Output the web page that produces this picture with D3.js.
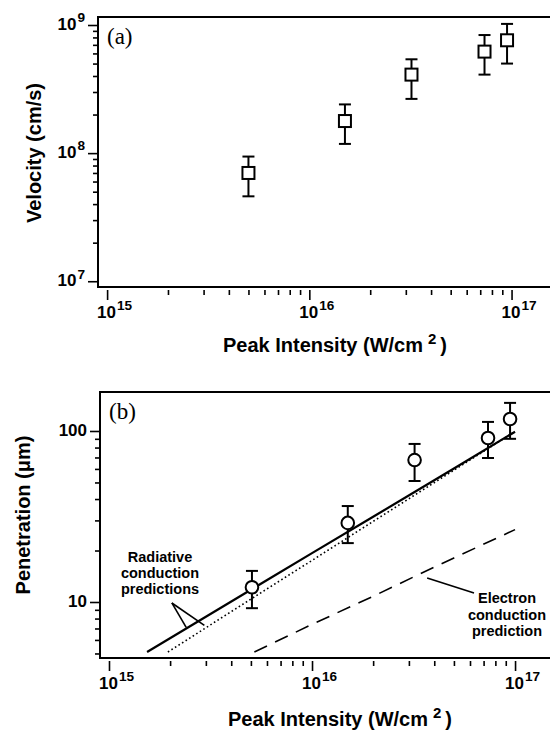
<!DOCTYPE html>
<html>
<head>
<meta charset="utf-8">
<script src="https://cdn.jsdelivr.net/npm/d3@7"></script>
<style>
  body { margin: 0; background: #fff; }
  svg { display: block; font-family: "Liberation Sans", Arial, sans-serif; }
</style>
</head>
<body>
<svg id="chart" width="550" height="733"></svg>
<script>
// ---- panel (a): velocity vs intensity ----
const velIntensity = [5.0e15, 1.5e16, 3.2e16, 7.35e16, 9.5e16];
const velocity     = [7.0e7, 1.78e8, 4.1e8, 6.2e8, 7.6e8];
const velHi        = [9.4e7, 2.4e8, 5.4e8, 8.35e8, 1.02e9];
const velLo        = [4.6e7, 1.18e8, 2.65e8, 4.1e8, 5.0e8];

// ---- panel (b): penetration vs intensity ----
const penIntensity = [5.06e15, 1.5e16, 3.2e16, 7.36e16, 9.45e16];
const penetration  = [12.2, 29, 67.6, 91, 117.5];
const penHi        = [15.2, 36.4, 84, 113, 146];
const penLo        = [9.2, 22.1, 51, 69.5, 90];

// model curves
const radIntensity    = [1.54e15, 3e15, 5e15, 1e16, 2e16, 3.2e16, 5e16, 1e17];
const radSolid        = [5.1, 8.2, 11.8, 19.3, 31.5, 44, 60.4, 99];
const radDotIntensity = [1.95e15, 5e15, 1e16, 2e16, 3.2e16, 5e16, 1e17];
const radDotted       = [5.1, 10.4, 17.5, 29.6, 42.2, 59, 99.5];
const elecIntensity   = [5.2e15, 1e16, 2e16, 3.2e16, 5e16, 1e17];
const elecDashed      = [5.1, 7.4, 10.8, 14.1, 18.1, 26.5];

// tick labels
const xMajor   = [1e15, 1e16, 1e17];
const velMajor = [1e7, 1e8, 1e9];
const penMajor = [10, 100];

const svg = d3.select("#chart");
const isPow10 = v => Math.abs(Math.log10(v) - Math.round(Math.log10(v))) < 1e-9;

function powLabel(sel, d, size) {
  sel.append("tspan").text("10");
  sel.append("tspan").attr("dx", 1).attr("dy", -size * 0.45).attr("font-size", size * 0.8)
    .text(Math.round(Math.log10(d)));
}

function drawPanel(p) {
  const g = svg.append("g");
  const x = d3.scaleLog().domain(p.xDomain).range([p.left, p.right]);
  const y = d3.scaleLog().domain(p.yDomain).range([p.bottom, p.top]);

  // x ticks (below the frame)
  const xAxisG = g.append("g").attr("transform", `translate(0,${p.bottom + 3})`);
  xAxisG.append("g").call(d3.axisBottom(x).tickValues(x.ticks().filter(v => !isPow10(v)))
    .tickSize(5).tickFormat(""));
  xAxisG.append("g").call(d3.axisBottom(x).tickValues(xMajor).tickSize(10).tickFormat(""));
  xAxisG.selectAll(".domain").remove();
  xAxisG.selectAll("line").attr("stroke", "#000").attr("stroke-width", 1.6);

  g.selectAll(".xlab").data(xMajor).join("text")
    .attr("x", d => x(d) - 10).attr("y", p.bottom + 31)
    .attr("font-size", 17).attr("font-weight", "bold")
    .each(function(d) { powLabel(d3.select(this), d, 17); });

  // y ticks (left of the frame)
  const yAxisG = g.append("g").attr("transform", `translate(${p.left},0)`);
  yAxisG.append("g").call(d3.axisLeft(y).tickValues(y.ticks().filter(v => !isPow10(v)))
    .tickSize(5).tickFormat(""));
  yAxisG.append("g").call(d3.axisLeft(y).tickValues(p.yMajor).tickSize(10).tickFormat(""));
  yAxisG.selectAll(".domain").remove();
  yAxisG.selectAll("line").attr("stroke", "#000").attr("stroke-width", 1.6);

  g.selectAll(".ylab").data(p.yMajor).join("text")
    .attr("x", p.left - 13).attr("y", d => y(d) + 5)
    .attr("text-anchor", "end").attr("font-size", 17).attr("font-weight", "bold")
    .each(function(d) {
      if (p.yPow) powLabel(d3.select(this), d, 17);
      else d3.select(this).text(d);
    });

  // frame
  g.append("rect")
    .attr("x", p.left).attr("y", p.top)
    .attr("width", p.right - p.left).attr("height", p.bottom - p.top)
    .attr("fill", "none").attr("stroke", "#000").attr("stroke-width", 2);

  // axis titles
  const xt = g.append("text").attr("x", p.xTitleX).attr("y", p.xTitleY)
    .attr("text-anchor", "middle").attr("font-size", 20).attr("font-weight", "bold");
  xt.append("tspan").text("Peak Intensity (W/cm");
  xt.append("tspan").attr("dx", 5).attr("dy", -8).attr("font-size", 15).text("2");
  xt.append("tspan").attr("dx", 4).attr("dy", 8).text(")");

  g.append("text")
    .attr("transform", `translate(${p.yTitleX},${p.yTitleY}) rotate(-90)`)
    .attr("text-anchor", "middle").attr("font-size", 20).attr("font-weight", "bold")
    .text(p.yTitle);

  // panel letter
  g.append("text").attr("x", p.left + 9).attr("y", p.top + 27)
    .attr("font-family", "'Liberation Serif', 'Times New Roman', serif")
    .attr("font-size", 23).text(p.letter);

  return { g, x, y };
}

function errorBars(g, x, y, xs, lo, hi) {
  const rows = d3.zip(xs, lo, hi);
  const eb = g.append("g").attr("stroke", "#000").attr("stroke-width", 2);
  eb.selectAll(".v").data(rows).join("line")
    .attr("x1", d => x(d[0])).attr("x2", d => x(d[0]))
    .attr("y1", d => y(d[1])).attr("y2", d => y(d[2]));
  eb.selectAll(".lo").data(rows).join("line")
    .attr("x1", d => x(d[0]) - 6).attr("x2", d => x(d[0]) + 6)
    .attr("y1", d => y(d[1])).attr("y2", d => y(d[1]));
  eb.selectAll(".hi").data(rows).join("line")
    .attr("x1", d => x(d[0]) - 6).attr("x2", d => x(d[0]) + 6)
    .attr("y1", d => y(d[2])).attr("y2", d => y(d[2]));
}

// ---------- panel (a) ----------
const A = drawPanel({
  left: 98, right: 552, top: 17, bottom: 287,
  xDomain: [10 ** 14.955, 10 ** 17.2], yDomain: [10 ** 6.955, 10 ** 9.0625],
  yMajor: velMajor, yPow: true,
  xTitleX: 335, xTitleY: 352, yTitleX: 41, yTitleY: 153,
  yTitle: "Velocity (cm/s)", letter: "(a)"
});
errorBars(A.g, A.x, A.y, velIntensity, velLo, velHi);
A.g.selectAll(".sq").data(d3.zip(velIntensity, velocity)).join("rect")
  .attr("x", d => A.x(d[0]) - 6).attr("y", d => A.y(d[1]) - 6)
  .attr("width", 12).attr("height", 12)
  .attr("fill", "#fff").attr("stroke", "#000").attr("stroke-width", 2);

// ---------- panel (b) ----------
const B = drawPanel({
  left: 100, right: 552, top: 392, bottom: 658,
  xDomain: [10 ** 14.9557, 10 ** 17.182], yDomain: [10 ** 0.6725, 10 ** 2.228],
  yMajor: penMajor, yPow: false,
  xTitleX: 340, xTitleY: 726, yTitleX: 30, yTitleY: 515,
  yTitle: "Penetration (\u03bcm)", letter: "(b)"
});

const line = d3.line().x(d => B.x(d[0])).y(d => B.y(d[1]));
B.g.append("path").datum(d3.zip(radIntensity, radSolid)).attr("d", line)
  .attr("fill", "none").attr("stroke", "#000").attr("stroke-width", 2.2);
B.g.append("path").datum(d3.zip(radDotIntensity, radDotted)).attr("d", line)
  .attr("fill", "none").attr("stroke", "#000").attr("stroke-width", 1.6)
  .attr("stroke-dasharray", "1.6,2.6");
B.g.append("path").datum(d3.zip(elecIntensity, elecDashed)).attr("d", line)
  .attr("fill", "none").attr("stroke", "#000").attr("stroke-width", 1.6)
  .attr("stroke-dasharray", "14,9");

errorBars(B.g, B.x, B.y, penIntensity, penLo, penHi);
B.g.selectAll(".ci").data(d3.zip(penIntensity, penetration)).join("circle")
  .attr("cx", d => B.x(d[0])).attr("cy", d => B.y(d[1])).attr("r", 6.3)
  .attr("fill", "#fff").attr("stroke", "#000").attr("stroke-width", 2);

// annotations
const radNote = ["Radiative", "conduction", "predictions"];
const elecNote = ["Electron", "conduction", "prediction"];
B.g.selectAll(".rn").data(radNote).join("text")
  .attr("x", 160).attr("y", (d, i) => 562 + i * 16)
  .attr("text-anchor", "middle").attr("font-size", 14.5).attr("font-weight", "bold").text(d => d);
B.g.selectAll(".en").data(elecNote).join("text")
  .attr("x", 507).attr("y", (d, i) => 603 + i * 16.5)
  .attr("text-anchor", "middle").attr("font-size", 14.5).attr("font-weight", "bold").text(d => d);

const radApex = [2.04e15, 9.87];
const radLegs = [[2.4e15, 7.1], [2.95e15, 7.3]];
const elecPointer = [[3.69e16, 13.8], [6.28e16, 11.3]];
const ptr = B.g.append("g").attr("stroke", "#000").attr("stroke-width", 1.6).attr("fill", "none");
ptr.selectAll(".leg").data(radLegs).join("path")
  .attr("d", d => line([radApex, d]));
ptr.append("path").attr("d", line(elecPointer));
</script>
</body>
</html>
